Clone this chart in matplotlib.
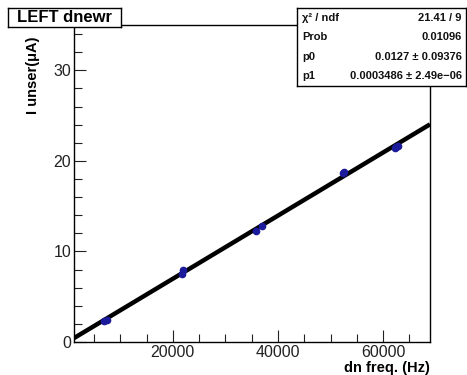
import matplotlib
matplotlib.use("Agg")
import matplotlib.pyplot as plt
from matplotlib.ticker import MultipleLocator
import numpy as np

plt.rcParams['font.family'] = ['Liberation Sans', 'DejaVu Sans']

# data
freq_hz = [7000, 7500, 21800, 22000, 35800, 36900, 52300, 52600, 62200, 62500, 62800]
i_unser = [2.35, 2.45, 7.5, 7.95, 12.3, 12.8, 18.7, 18.8, 21.45, 21.55, 21.6]

# fit parameters
p0 = 0.0127
p1 = 0.0003486
fit_range = [1200, 68900]

title = "LEFT dnewr"
xlabel = "dn freq. (Hz)"
ylabel = "I unser(\u03bcA)"
stats_rows = [("\u03c7\u00b2 / ndf", "21.41 / 9"),
              ("Prob", "0.01096"),
              ("p0", "0.0127 \u00b1 0.09376"),
              ("p1", "0.0003486 \u00b1 2.49e\u221206")]

W, H = 467, 375
fig = plt.figure(figsize=(W/100, H/100), dpi=100)
ax = fig.add_axes([74/W, 1-342/H, (430-74)/W, (342-25)/H])

xf = np.array(fit_range, dtype=float)
ax.plot(xf, p0 + p1*xf, color='black', lw=3.2, solid_capstyle='butt', zorder=2)
ax.plot(freq_hz, i_unser, 'o', color='#1a1a9a', ms=4.5, zorder=3)

ax.set_xlim(fit_range[0], fit_range[1])
ax.set_ylim(0, 35)
ax.xaxis.set_major_locator(MultipleLocator(20000))
ax.xaxis.set_minor_locator(MultipleLocator(5000))
ax.yaxis.set_major_locator(MultipleLocator(10))
ax.yaxis.set_minor_locator(MultipleLocator(2))
ax.tick_params(which='both', direction='in', top=False, right=False, color='#222222', width=0.8)
ax.tick_params(which='major', length=8.5, labelsize=11.5, labelcolor='#222222', pad=2)
ax.tick_params(which='minor', length=5.5)
for s in ax.spines.values():
    s.set_linewidth(1.0)
    s.set_color('black')

fig.text(430/W, 1-368/H, xlabel, ha='right', va='center', fontsize=10.5, fontweight='bold')
fig.text(33/W, 1-75/H, ylabel, ha='center', va='center', rotation=90, fontsize=10.5, fontweight='bold')

# title box
tax = fig.add_axes([8/W, 1-27/H, (121-8)/W, (27-8)/H])
tax.set_xticks([]); tax.set_yticks([])
for s in tax.spines.values():
    s.set_linewidth(1.0)
tax.text(0.5, 0.5, title, ha='center', va='center', fontsize=12, fontweight='bold', transform=tax.transAxes)

# stats box
sx0, sx1, sy0, sy1 = 297, 466, 8, 86
sax = fig.add_axes([sx0/W, 1-sy1/H, (sx1-sx0)/W, (sy1-sy0)/H])
sax.set_xticks([]); sax.set_yticks([])
sax.set_xlim(0, 1); sax.set_ylim(0, 1)
for s in sax.spines.values():
    s.set_linewidth(1.0)
n = len(stats_rows)
for k, (lab, val) in enumerate(stats_rows):
    y = 1 - (k + 0.5)/n
    sax.text(0.03, y, lab, ha='left', va='center', fontsize=8, fontweight='bold', color='#111111')
    sax.text(0.975, y, val, ha='right', va='center', fontsize=8, fontweight='bold', color='#111111')

fig.savefig('out.png', dpi=100)
